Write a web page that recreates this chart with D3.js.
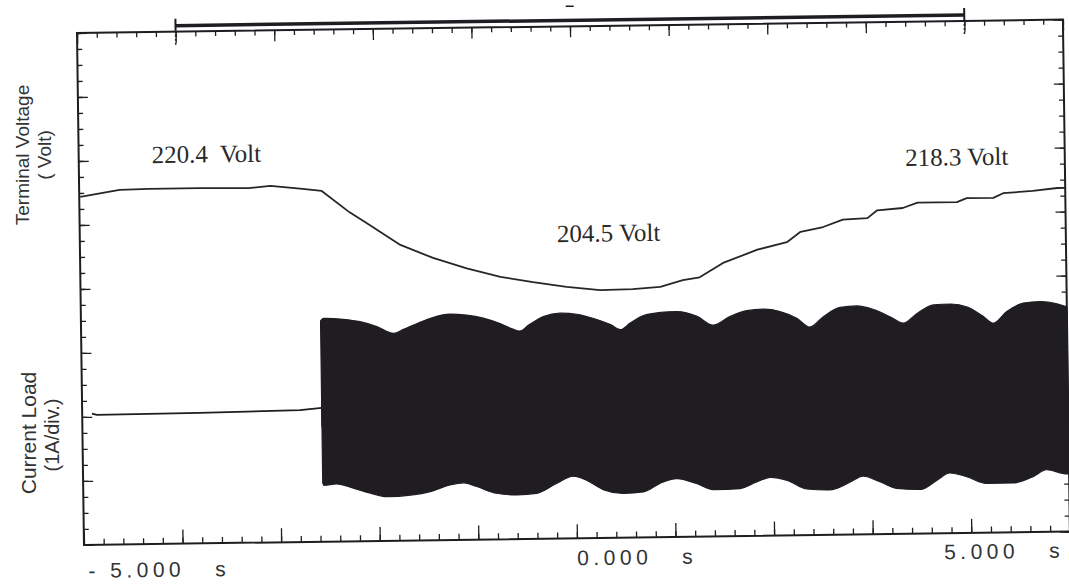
<!DOCTYPE html>
<html>
<head>
<meta charset="utf-8">
<script src="https://cdn.jsdelivr.net/npm/d3@7"></script>
<style>
	body { margin: 0; background: #fff; }
	svg { display: block; }
</style>
</head>
<body>
<div id="chart"></div>
<script>
// terminal voltage trace (time in s, volts)
const voltTime = [-4.99, -4.79, -4.59, -4.29, -3.78, -3.28, -3.06, -2.76, -2.54, -2.26, -2.09, -1.75,
	-1.42, -1.08, -0.74, -0.41, -0.07, 0.27, 0.60, 0.88, 1.11, 1.28, 1.52, 1.87, 2.17, 2.31, 2.54,
	2.74, 2.99, 3.09, 3.35, 3.50, 3.90, 4.00, 4.27, 4.37, 4.67, 4.92, 5.00];
const voltValue = [219.4, 219.9, 220.4, 220.5, 220.5, 220.4, 220.7, 220.2, 219.8, 216.4, 214.7, 211.2,
	209.1, 207.4, 206.0, 205.1, 204.3, 203.7, 203.8, 204.1, 205.1, 205.5, 207.7, 209.7, 210.8, 212.4, 213.1,
	214.2, 214.4, 215.6, 215.9, 216.7, 216.7, 217.3, 217.3, 218.0, 218.3, 218.7, 218.7];

// current before the load is switched on (A)
const baseTime = [-4.9, -4.85, -3.81, -2.79, -2.57];
const baseCurrent = [0.05, 0.03, 0.04, 0.06, 0.09];

// upper envelope of the load current (A)
const topTime = [-2.57, -2.54, -2.34, -2.17, -2.00, -1.83, -1.73, -1.59, -1.43, -1.26, -1.09, -0.92,
	-0.75, -0.62, -0.55, -0.46, -0.31, -0.14, 0.03, 0.20, 0.37, 0.47, 0.57, 0.70, 0.88, 1.04,
	1.25, 1.41, 1.58, 1.75, 1.92, 2.09, 2.26, 2.39, 2.53, 2.70, 2.87, 3.04, 3.21, 3.34, 3.48,
	3.65, 3.82, 3.99, 4.15, 4.25, 4.39, 4.56, 4.73, 4.90, 5.00];
const topCurrent = [1.45, 1.49, 1.47, 1.43, 1.35, 1.24, 1.30, 1.39, 1.48, 1.53, 1.51, 1.46,
	1.37, 1.28, 1.25, 1.34, 1.47, 1.52, 1.50, 1.43, 1.33, 1.25, 1.35, 1.46, 1.51, 1.52,
	1.44, 1.30, 1.43, 1.52, 1.54, 1.50, 1.39, 1.25, 1.41, 1.55, 1.57, 1.51, 1.39, 1.29, 1.44,
	1.57, 1.58, 1.53, 1.38, 1.27, 1.45, 1.58, 1.60, 1.56, 1.51];

// lower envelope of the load current (A)
const bottomTime = [-2.57, -2.56, -2.43, -2.26, -2.09, -1.92, -1.68, -1.48, -1.28, -1.14, -1.01, -0.81,
	-0.60, -0.40, -0.20, -0.03, 0.11, 0.28, 0.48, 0.68, 0.85, 1.02, 1.22, 1.39, 1.66, 1.83,
	1.97, 2.14, 2.34, 2.57, 2.78, 2.91, 3.08, 3.25, 3.49, 3.66, 3.79, 3.96, 4.16, 4.43, 4.64,
	4.77, 4.98, 5.00];
const bottomCurrent = [-1.08, -1.12, -1.10, -1.17, -1.25, -1.31, -1.29, -1.24, -1.14, -1.11, -1.17, -1.28,
	-1.31, -1.29, -1.14, -1.03, -1.10, -1.25, -1.31, -1.29, -1.16, -1.09, -1.17, -1.27, -1.26, -1.16,
	-1.09, -1.14, -1.28, -1.30, -1.18, -1.09, -1.18, -1.29, -1.31, -1.17, -1.06, -1.12, -1.23, -1.23, -1.13,
	-1.03, -1.10, -1.10];

// annotations
const noteText = ['220.4  Volt', '204.5 Volt', '218.3 Volt'];
const noteTime = [-4.26, -0.16, 3.38];
const noteVolt = [224.5, 211.3, 222.45];

// time labels and cursors
const xLabelTime = [-5, 0, 5];
const xLabelText = ['- 5.000', '0.000', '5.000'];
const cursorTime = [-4, 4];

const width = 1069;
const height = 585;
const X0 = 77, Y0 = 33, W = 986, H = 512;
const TILT = -0.78;
const ink = '#1f1d22';

let svg = d3.select('#chart').append('svg')
	.attr('width', width)
	.attr('height', height)
	.style('background', '#fff');

let g = svg.append('g')
	.attr('transform', `translate(${X0},${Y0}) rotate(${TILT})`);

let x = d3.scaleLinear().domain([-5, 5]).range([0, W]);
let yV = d3.scaleLinear().domain([245, 165]).range([0, H]);
let yI = d3.scaleLinear().domain([6, -2]).range([0, H]);

function noDomain(sel) {
	sel.select('.domain').remove();
	sel.selectAll('line').attr('stroke', ink).attr('stroke-width', 1.3);
}

const minorT = d3.range(0, 51).map(i => -5 + i * 0.2);
const majorT = d3.range(-5, 6, 1);
const minorV = d3.range(0, 33).map(i => 165 + i * 2.5);
const majorV = d3.range(165, 246, 10);

// inward ticks on the four sides of the screen
g.append('g').attr('transform', `translate(0,${H})`)
	.call(d3.axisTop(x).tickValues(minorT).tickSize(6).tickFormat(''))
	.call(noDomain);
g.append('g').attr('transform', `translate(0,${H})`)
	.call(d3.axisTop(x).tickValues(majorT).tickSize(14).tickFormat(''))
	.call(noDomain);
g.append('g')
	.call(d3.axisBottom(x).tickValues(minorT).tickSize(5).tickFormat(''))
	.call(noDomain);
g.append('g')
	.call(d3.axisBottom(x).tickValues(majorT).tickSize(11).tickFormat(''))
	.call(noDomain);
g.append('g')
	.call(d3.axisRight(yV).tickValues(minorV).tickSize(5).tickFormat(''))
	.call(noDomain);
g.append('g')
	.call(d3.axisRight(yV).tickValues(majorV).tickSize(10).tickFormat(''))
	.call(noDomain);
g.append('g').attr('transform', `translate(${W},0)`)
	.call(d3.axisLeft(yV).tickValues(minorV).tickSize(5).tickFormat(''))
	.call(noDomain);
g.append('g').attr('transform', `translate(${W},0)`)
	.call(d3.axisLeft(yV).tickValues(majorV).tickSize(10).tickFormat(''))
	.call(noDomain);

g.append('rect')
	.attr('x', 0)
	.attr('y', 0)
	.attr('width', W)
	.attr('height', H)
	.attr('fill', 'none')
	.attr('stroke', ink)
	.attr('stroke-width', 2);

// cursor bar above the screen
g.append('line')
	.attr('x1', x(cursorTime[0]))
	.attr('x2', x(cursorTime[1]))
	.attr('y1', -6)
	.attr('y2', -6)
	.attr('stroke', ink)
	.attr('stroke-width', 3.5);
cursorTime.forEach(t => {
	g.append('line')
		.attr('x1', x(t)).attr('x2', x(t))
		.attr('y1', -13).attr('y2', -1)
		.attr('stroke', ink)
		.attr('stroke-width', 2);
	g.append('line')
		.attr('x1', x(t)).attr('x2', x(t))
		.attr('y1', -1).attr('y2', 15)
		.attr('stroke', ink)
		.attr('stroke-width', 1.5)
		.attr('stroke-dasharray', '2,2');
});
g.append('line')
	.attr('x1', x(0) - 4).attr('x2', x(0) + 4)
	.attr('y1', -20).attr('y2', -20)
	.attr('stroke', ink)
	.attr('stroke-width', 1.5);

// load current: baseline then the (solid looking) AC band
let baseLine = d3.line()
	.x((d, i) => x(baseTime[i]))
	.y(d => yI(d));
g.append('path')
	.attr('d', baseLine(baseCurrent))
	.attr('fill', 'none')
	.attr('stroke', ink)
	.attr('stroke-width', 1.8);

// upper and lower halves of the band, overlapping around zero
let upper = d3.area()
	.curve(d3.curveMonotoneX)
	.x((d, i) => x(topTime[i]))
	.y0(yI(-0.2))
	.y1(d => yI(d));
let lower = d3.area()
	.curve(d3.curveMonotoneX)
	.x((d, i) => x(bottomTime[i]))
	.y0(yI(0.2))
	.y1(d => yI(d));
[[upper, topCurrent], [lower, bottomCurrent]].forEach(([gen, vals]) => {
	g.append('path')
		.attr('d', gen(vals))
		.attr('fill', ink)
		.attr('stroke', ink)
		.attr('stroke-width', 1.2)
		.attr('stroke-linejoin', 'round');
});

// terminal voltage
let vLine = d3.line()
	.x((d, i) => x(voltTime[i]))
	.y(d => yV(d));
g.append('path')
	.attr('d', vLine(voltValue))
	.attr('fill', 'none')
	.attr('stroke', '#262626')
	.attr('stroke-width', 1.8)
	.attr('stroke-linejoin', 'round');

noteText.forEach((s, i) => {
	g.append('text')
		.attr('x', x(noteTime[i]))
		.attr('y', yV(noteVolt[i]))
		.style('white-space', 'pre')
		.attr('font-family', '"Liberation Serif", "Times New Roman", serif')
		.attr('font-size', 25)
		.attr('fill', '#2a2a2a')
		.text(s);
});

// time labels under the screen
const labelLift = [33, 27, 26];
xLabelText.forEach((s, i) => {
	let anchor = i == 2 ? 'end' : 'start';
	let dx = i == 0 ? 4 : (i == 1 ? 0 : -6);
	let t = g.append('text')
		.attr('x', x(xLabelTime[i]) + dx)
		.attr('y', H + labelLift[i])
		.attr('text-anchor', anchor)
		.style('white-space', 'pre')
		.attr('font-family', '"Liberation Sans", Arial, sans-serif')
		.attr('font-size', 21)
		.attr('letter-spacing', 4.5)
		.attr('fill', '#333');
	t.append('tspan').text(s);
	t.append('tspan').attr('dx', 30).text('s');
});

// axis titles on the left
const yTitles = [
	{ text: 'Terminal Voltage', x: 29, y: 155, size: 19 },
	{ text: '( Volt)', x: 51, y: 155, size: 19 },
	{ text: 'Current Load', x: 36, y: 433, size: 21 },
	{ text: '(1A/div.)', x: 59, y: 435, size: 20 },
];
yTitles.forEach(d => {
	svg.append('text')
		.attr('transform', `translate(${d.x},${d.y}) rotate(-90)`)
		.attr('text-anchor', 'middle')
		.style('white-space', 'pre')
		.attr('font-family', '"Liberation Sans", Arial, sans-serif')
		.attr('font-size', d.size)
		.attr('fill', '#333')
		.text(d.text);
});
</script>
</body>
</html>
